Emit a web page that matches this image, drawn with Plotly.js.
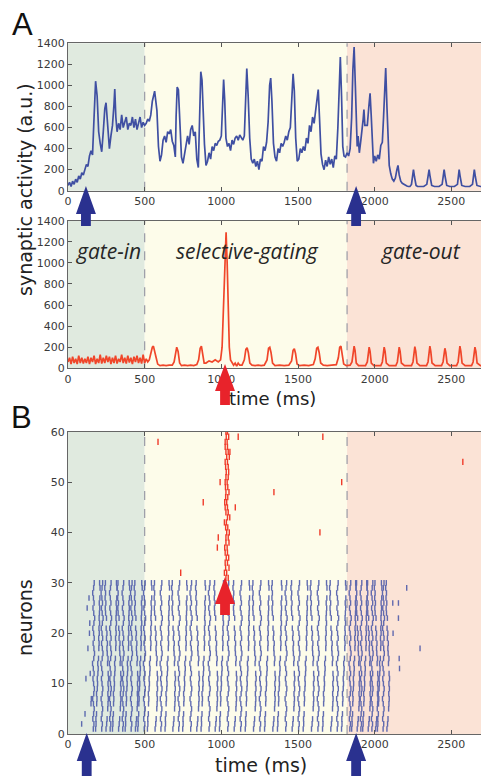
<!DOCTYPE html>
<html><head><meta charset="utf-8">
<script src="https://cdn.plot.ly/plotly-3.0.1.min.js"></script>
<style>html,body{margin:0;padding:0;overflow:hidden;background:#fff}#chart{width:540px;height:780px}</style>
</head><body><div id="chart"></div>
<script>
// ---------- DATA ----------
// Panel A (top): synaptic activity of population 1 (blue), time in ms
const blueT = [0,10,20,30,40,50,60,70,80,90,100,110,120,130,140,150,160,170,180,190,200,210,220,230,240,248,255,262,270,280,290,300,305,312,320,330,340,350,360,370,380,390,400,410,420,430,440,450,460,470,480,490,500,510,520,530,540,550,565,580,590,600,610,620,630,640,650,660,670,680,690,700,705,712,720,730,740,750,760,770,780,790,800,810,820,830,840,850,858,866,874,880,890,900,910,920,930,940,950,960,970,980,990,1000,1008,1015,1022,1030,1040,1050,1060,1070,1080,1090,1100,1110,1120,1130,1140,1150,1158,1166,1175,1185,1195,1205,1215,1225,1235,1245,1255,1265,1275,1285,1295,1305,1315,1322,1330,1340,1350,1360,1370,1380,1390,1400,1410,1420,1430,1440,1450,1460,1468,1476,1485,1495,1505,1515,1525,1535,1545,1555,1565,1575,1585,1595,1605,1615,1625,1632,1640,1650,1660,1670,1680,1690,1700,1710,1720,1730,1740,1750,1760,1770,1776,1784,1792,1800,1810,1820,1830,1840,1850,1858,1866,1874,1880,1886,1892,1900,1910,1918,1925,1930,1936,1944,1952,1962,1970,1978,1986,1992,2000,2010,2020,2030,2040,2050,2058,2066,2072,2080,2088,2095,2105,2115,2125,2135,2145,2152,2160,2170,2180,2190,2200,2210,2220,2230,2240,2247,2253,2260,2270,2280,2300,2320,2340,2348,2355,2362,2372,2390,2420,2440,2447,2453,2460,2470,2490,2520,2540,2546,2551,2558,2568,2590,2620,2638,2645,2650,2657,2667,2690,2730,2745,2750,2757,2767,2800];
const blueV = [50,80,40,90,60,110,80,140,110,170,150,210,250,230,330,380,340,700,1040,900,560,450,370,560,780,835,700,520,400,520,620,820,965,700,560,640,580,720,600,650,700,580,640,620,700,600,680,580,650,700,600,650,620,640,680,660,720,850,945,760,420,280,340,480,520,460,560,540,580,470,430,320,700,985,960,600,320,260,360,460,520,440,580,620,520,560,300,220,700,1130,1050,800,440,240,280,360,300,420,380,450,430,470,480,520,900,1055,860,500,420,450,380,480,440,500,520,480,530,500,480,520,800,1160,900,500,300,260,300,230,280,200,300,280,420,380,460,650,1000,1070,850,450,320,280,400,360,450,420,460,520,480,560,600,850,1110,950,500,280,300,400,360,420,380,500,450,620,560,700,640,760,880,960,700,350,250,200,290,230,320,250,300,220,330,300,600,1050,1270,900,420,330,320,360,330,400,700,1150,1365,1000,650,420,520,360,480,560,680,770,620,620,620,800,925,700,420,260,330,280,340,300,430,460,700,1050,1165,800,450,240,160,110,90,120,200,240,150,90,70,60,50,45,40,40,60,150,200,130,50,40,40,40,60,150,200,130,50,40,40,60,150,200,130,50,40,40,60,150,200,130,50,40,40,60,150,200,130,50,40,40,150,200,130,50,40];

// Panel A (bottom): synaptic activity of population 2 (red)
const redT = [0,10,20,30,40,50,60,70,80,90,100,110,120,130,140,150,160,170,180,190,200,210,220,230,240,250,260,270,280,290,300,310,320,330,340,350,360,370,380,390,400,410,420,430,440,450,460,470,480,490,500,510,520,530,540,550,557,565,575,585,600,620,640,660,680,692,700,709,718,728,740,760,780,800,820,840,852,862,870,878,888,900,920,940,960,980,995,1005,1015,1025,1031,1038,1045,1052,1060,1070,1080,1090,1100,1110,1120,1135,1150,1160,1168,1176,1186,1200,1220,1240,1260,1280,1298,1308,1316,1324,1334,1350,1380,1410,1440,1458,1468,1476,1484,1494,1510,1540,1570,1600,1612,1622,1630,1638,1648,1665,1690,1720,1750,1763,1772,1780,1788,1798,1815,1840,1852,1860,1866,1872,1880,1895,1940,1952,1958,1964,1970,1978,1995,2040,2050,2056,2062,2068,2076,2095,2138,2148,2154,2160,2166,2174,2195,2240,2250,2256,2262,2268,2276,2295,2338,2348,2354,2360,2366,2374,2395,2436,2446,2452,2458,2464,2472,2490,2534,2544,2550,2556,2562,2570,2590,2632,2642,2648,2654,2660,2668,2690,2730,2740,2746,2752,2758,2766,2790,2850];
const redV = [60,100,40,110,50,90,40,120,50,100,45,90,50,110,40,100,60,120,40,90,50,130,45,100,50,120,60,110,40,100,50,120,45,90,60,130,50,100,45,120,55,100,40,110,60,120,50,100,45,130,50,90,60,80,140,200,210,170,100,40,25,30,25,30,30,60,150,200,160,50,25,30,25,30,25,35,80,190,210,130,50,50,70,60,80,60,80,200,600,1150,1290,1000,500,200,80,50,30,50,20,50,30,30,80,180,195,150,50,30,25,30,25,30,80,190,200,150,50,25,30,25,30,70,170,185,140,40,25,30,25,35,90,190,200,150,50,30,25,30,35,100,200,210,140,40,25,30,60,170,210,170,50,25,25,60,170,200,160,50,25,25,60,170,200,160,50,25,25,60,170,200,160,50,25,25,60,170,205,160,50,25,25,60,170,210,160,50,25,25,60,160,190,150,50,25,25,60,170,210,160,50,25,25,60,170,200,160,50,25,25,60,170,200,160,50,25,25];

// Panel B: raster. Blue population (neurons 1-30) fires in columns (cycle times, ms)
const blueColumns = [165,192,220,248,275,302,330,357,385,412,440,467,497,
  530,568,606,645,684,722,760,800,840,880,920,960,1000,1042,1084,1126,1168,1210,1252,1294,1336,1378,1420,1462,1504,1546,1588,1630,1672,1714,1756,1796,
  1838,1862,1886,1910,1934,1958,1982,2006,2030,2055,2080];
// which wave shape each column has (index into columnShapes)
const blueColumnShape = [0,1,0,2,0,1,2,0,1,0,2,1,0, 1,2,0,1,2,0,1,0,2,1,0,2,1,0,2,0,1,2,0,1,2,1,0,2,0,1,2,0,1,2,0,1, 0,1,2,0,1,2,0,2,1,0,2];
// per-neuron timing offsets (ms) giving columns their wavy shapes; null = no spike
const columnShapes = [
  [0,4,-3,2,6,1,-4,3,7,2,-2,5,0,-5,3,8,4,-1,6,2,-3,4,9,3,-2,5,1,-4,2,6],
  [-12,-9,-10,-6,null,-5,-3,-6,-1,1,-1,3,5,2,7,null,9,11,8,12,10,14,11,13,15,12,16,null,17,14],
  [0,4,7,null,11,13,15,12,16,13,17,14,null,10,13,8,6,9,3,6,1,null,3,-3,-5,-1,-6,-3,-8,-4]
];
const blueNeurons = [1,2,3,4,5,6,7,8,9,10,11,12,13,14,15,16,17,18,19,20,21,22,23,24,25,26,27,28,29,30];
// isolated blue spikes (early onset and late stragglers)
const blueExtraT = [89,111,117,125,130,137,140,142,145,150,152,2118,2120,2155,2155,2160,2162,2209,2296];
const blueExtraN = [2,4,11,25,17,27,20,22,12,6,7,26,20,26,23,15,13,29,17];
// red population (neurons 31-60): synchronous volley around 1030 ms
const redNeurons = [31,32,33,34,35,36,37,38,39,40,41,42,43,44,45,46,47,48,49,50,51,52,53,54,55,56,57,58,59,60];
const redVolleyA = [1030,1035,1028,1040,1032,1025,1038,1030,1045,1035,1028,1033,1040,1030,1025,1035,1042,1030,1027,1038,1045,1032,1028,1040,1035,1030,1025,1038,1032,1030];
const redVolleyB = [1045,1020,1050,1025,1048,1040,1022,1050,1030,1052,1042,1020,1055,1045,1040,1022,1028,1050,1042,1025,1030,1048,1045,1025,1052,1045,1040,1025,1048,1040];
const redExtraT = [587,1110,1662,2575,1785,1343,882,1091,1643,980,974,735,992,1056];
const redExtraN = [58,59,59,54,50,48,46,45,40,39,37,32,50,56];

// phases
const phaseNames = ["gate-in","selective-gating","gate-out"];
const phaseStart = [0,500,1820];
const phaseEnd = [500,1820,3000];
const phaseLabelT = [261,1168,2303];
const xTickVals = [0,500,1000,1500,2000,2500];
const xTickText = ["0","500","1000","1500","2000","2500"];
const yTickA = [0,200,400,600,800,1000,1200,1400];
const yTickB = [0,10,20,30,40,50,60];

// ---------- BUILD ----------
const W=540, H=780;
const PY = p => 1 - p/H;
const phaseColors = ["#e0eadf","#fdfcea","#fbe3d6"];

const rasterBX=[], rasterBY=[];
blueColumns.forEach((c,k) => {
  const sh = columnShapes[blueColumnShape[k]];
  blueNeurons.forEach((n,i) => { if (sh[i] !== null) { rasterBX.push(c + sh[i]); rasterBY.push(n); } });
});
blueExtraT.forEach((t,i)=>{ rasterBX.push(t); rasterBY.push(blueExtraN[i]); });
const rasterRX=[], rasterRY=[];
redNeurons.forEach((n,i)=>{ rasterRX.push(redVolleyA[i]); rasterRY.push(n); rasterRX.push(redVolleyB[i]); rasterRY.push(n); });
redExtraT.forEach((t,i)=>{ rasterRX.push(t); rasterRY.push(redExtraN[i]); });

const traces = [
  {x:blueT, y:blueV, xaxis:'x', yaxis:'y', mode:'lines', line:{color:'#3f4fa2', width:1.7}, hoverinfo:'skip'},
  {x:redT, y:redV, xaxis:'x2', yaxis:'y2', mode:'lines', line:{color:'#f0462a', width:1.7}, hoverinfo:'skip'},
  {x:rasterBX, y:rasterBY, xaxis:'x3', yaxis:'y3', mode:'markers', opacity:0.85,
   marker:{symbol:'line-ns', size:4, line:{width:1.4, color:'#4654a8'}}, hoverinfo:'skip'},
  {x:rasterRX, y:rasterRY, xaxis:'x3', yaxis:'y3', mode:'markers',
   marker:{symbol:'line-ns', size:4.5, line:{width:1.4, color:'#ef3b2a'}}, hoverinfo:'skip'}
];

const tickFont = {family:'DejaVu Sans', size:11, color:'#3a3a3a'};
function xax(anchor){ return {domain:[68/W, 528/W], range:[0,3000], anchor:anchor, tickvals:xTickVals, ticktext:xTickText,
  ticks:'inside', ticklen:4, tickcolor:'#555', showline:true, mirror:'ticks', linecolor:'#666', linewidth:1,
  showgrid:false, zeroline:false, tickfont:tickFont, fixedrange:true}; }
function yax(anchor, dom, rng, tv){ return {domain:dom, range:rng, anchor:anchor, tickvals:tv,
  ticks:'inside', ticklen:4, tickcolor:'#555', showline:true, mirror:'ticks', linecolor:'#666', linewidth:1,
  showgrid:false, zeroline:false, tickfont:tickFont, fixedrange:true}; }

const shapes = [];
[['x','y'],['x2','y2'],['x3','y3']].forEach(([xr,yr])=>{
  phaseStart.forEach((s,i)=>shapes.push({type:'rect', xref:xr, yref:yr+' domain', x0:s, x1:phaseEnd[i], y0:0, y1:1,
    fillcolor:phaseColors[i], line:{width:0}, layer:'below'}));
  [500,1820].forEach(b=>shapes.push({type:'line', xref:xr, yref:yr+' domain', x0:b, x1:b, y0:0, y1:1,
    line:{color:'#9a9aa6', width:1.2, dash:'dash'}, layer:'below'}));
});
// fat arrows (tip time in ms, pixel rows of tip/head-base/tail)
function arrow(xr, t, tip, base, tail, col){
  const hw = 65, sw = 32;
  return {type:'path', xref:xr, yref:'paper', layer:'above', fillcolor:col, line:{width:0},
    path:`M ${t},${PY(tip)} L ${t+hw},${PY(base)} L ${t+sw},${PY(base)} L ${t+sw},${PY(tail)} L ${t-sw},${PY(tail)} L ${t-sw},${PY(base)} L ${t-hw},${PY(base)} Z`};
}
const navy = '#2a318f', red = '#e8232b';
shapes.push(arrow('x',117,186,214,226,navy));
shapes.push(arrow('x',1879,186,214,226,navy));
shapes.push(arrow('x2',1024,364,391,405,red));
shapes.push(arrow('x3',122,733,761,776,navy));
shapes.push(arrow('x3',1879,733,761,776,navy));
shapes.push(arrow('x3',1024,577,604,615,red));

const annotations = [
  {text:'A', xref:'paper', yref:'paper', x:10/W, y:PY(24), xanchor:'left', yanchor:'middle', showarrow:false,
   font:{family:'Liberation Sans', size:31, color:'#111'}},
  {text:'B', xref:'paper', yref:'paper', x:9/W, y:PY(417), xanchor:'left', yanchor:'middle', showarrow:false,
   font:{family:'Liberation Sans', size:31, color:'#111'}},
  {text:'synaptic activity (a.u.)', xref:'paper', yref:'paper', x:25/W, y:PY(190), textangle:-90, showarrow:false,
   xanchor:'center', yanchor:'middle', font:{family:'DejaVu Sans', size:19, color:'#222'}},
  {text:'neurons', xref:'paper', yref:'paper', x:25/W, y:PY(618), textangle:-90, showarrow:false,
   xanchor:'center', yanchor:'middle', font:{family:'DejaVu Sans', size:19, color:'#222'}},
  {text:'time (ms)', xref:'paper', yref:'paper', x:272/W, y:PY(398), showarrow:false,
   xanchor:'center', yanchor:'middle', font:{family:'DejaVu Sans', size:18, color:'#222'}},
  {text:'time (ms)', xref:'paper', yref:'paper', x:261/W, y:PY(765), showarrow:false,
   xanchor:'center', yanchor:'middle', font:{family:'DejaVu Sans', size:19, color:'#222'}}
];
phaseNames.forEach((n,i)=>annotations.push({text:'<i>'+n+'</i>', xref:'x2', yref:'y2', x:phaseLabelT[i], y:1110,
  showarrow:false, xanchor:'center', yanchor:'middle', font:{family:'Open Sans', size:21, color:'#262626'}}));

const layout = {
  width:W, height:H, margin:{l:0,r:0,t:0,b:0}, paper_bgcolor:'#fff', plot_bgcolor:'#fff', showlegend:false,
  xaxis: xax('y'), yaxis: yax('x',[PY(190.7), PY(43.3)],[0,1400],yTickA),
  xaxis2: xax('y2'), yaxis2: yax('x2',[PY(368.3), PY(220.7)],[0,1400],yTickA),
  xaxis3: xax('y3'), yaxis3: yax('x3',[PY(734), PY(431.7)],[0,60],yTickB),
  shapes:shapes, annotations:annotations
};
Plotly.newPlot('chart', traces, layout, {staticPlot:true, displayModeBar:false});
</script></body></html>
